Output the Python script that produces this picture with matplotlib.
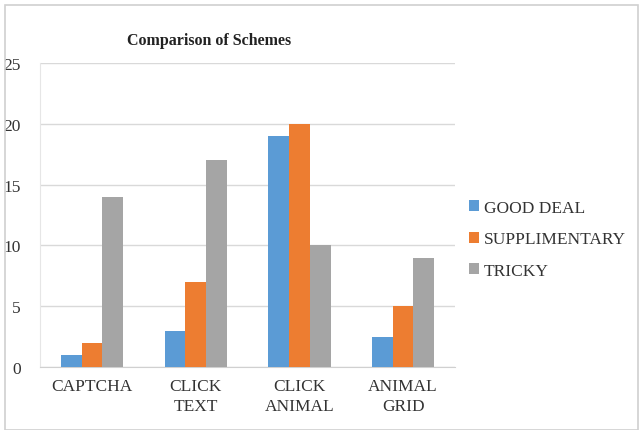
import numpy as np
import matplotlib.pyplot as plt
from matplotlib.patches import Rectangle

categories = ['CAPTCHA', 'CLICK\nTEXT', 'CLICK\nANIMAL', 'ANIMAL\nGRID']
good_deal = [1, 3, 19, 2.5]
supplimentary = [2, 7, 20, 5]
tricky = [14, 17, 10, 9]
series_names = ['GOOD DEAL', 'SUPPLIMENTARY', 'TRICKY']
colors = ['#5b9bd5', '#ed7d31', '#a5a5a5']

plt.rcParams['font.family'] = ['Liberation Serif', 'DejaVu Serif']

fig = plt.figure(figsize=(6.39, 4.31), dpi=100)
ax = fig.add_axes([0.063, 0.146, 0.649, 0.706])

x = np.arange(len(categories))
w = 0.2
for i, (vals, name) in enumerate(zip([good_deal, supplimentary, tricky], series_names)):
    ax.bar(x + (i - 1) * w, vals, w, color=colors[i], label=name, zorder=3)

ax.set_xlim(-0.5, len(categories) - 0.5)
ax.set_ylim(0, 25)
ax.set_yticks(range(0, 26, 5))
ax.set_xticks(x)
ax.set_xticklabels(categories, fontsize=12.5, color='#333333', linespacing=1.3)
ax.tick_params(axis='y', labelsize=12.5, labelcolor='#333333', length=0, pad=14)
ax.tick_params(axis='x', length=0, pad=8)
ax.grid(axis='y', color='#d9d9d9', linewidth=1, zorder=0)
for s in ['top', 'right']:
    ax.spines[s].set_visible(False)
ax.spines['left'].set_color('#e6e6e6')
ax.spines['bottom'].set_color('#d0d0d0')

fig.text(0.327, 0.905, 'Comparison of Schemes', ha='center', va='center',
         fontsize=11.5, fontweight='bold', color='#222222')

ax.legend(loc='center left', bbox_to_anchor=(0.995, 0.42), frameon=False,
          fontsize=12.5, handlelength=0.6, handleheight=0.6, handletextpad=0.3,
          labelspacing=0.9, labelcolor='#333333')

fig.patches.append(Rectangle((0.008, 0.0), 0.99, 0.985, transform=fig.transFigure,
                             fill=False, edgecolor='#d0d0d0', linewidth=1.2))

fig.savefig('out.png', dpi=100)
